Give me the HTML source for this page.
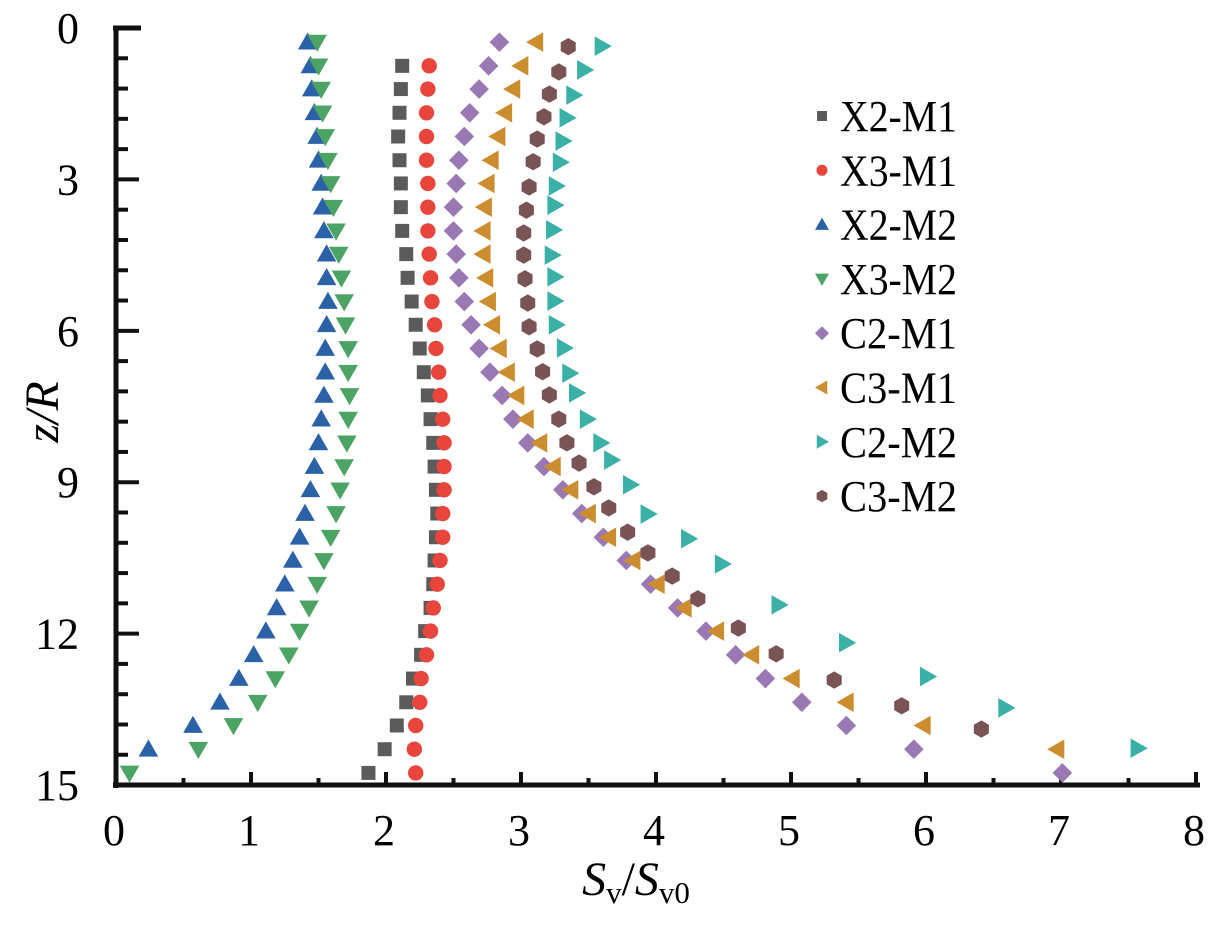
<!DOCTYPE html>
<html><head><meta charset="utf-8"><style>
html,body{margin:0;padding:0;background:#fff;}
svg{display:block;font-family:"Liberation Serif",serif;}
</style></head><body>
<svg id="chart" width="1220" height="926" viewBox="0 0 1220 926" xmlns="http://www.w3.org/2000/svg">
<g id="axes"></g>
<g id="marks"></g>
<g id="legend"></g>
<text transform="translate(58,412) rotate(-90)" text-anchor="middle" font-size="48" font-style="italic">z/R</text>
<text x="636" y="895" text-anchor="middle" font-size="48"><tspan font-style="italic">S</tspan><tspan font-size="31" dy="8">v</tspan><tspan dy="-8">/</tspan><tspan font-style="italic">S</tspan><tspan font-size="31" dy="8">v0</tspan></text>
</svg>
<script>
const NS="http://www.w3.org/2000/svg";
const xTicks=[0,1,2,3,4,5,6,7,8];
const yTicks=[0,3,6,9,12,15];
const rowZ=[0.28,0.75,1.21,1.68,2.15,2.62,3.08,3.55,4.02,4.48,4.95,5.42,5.88,6.35,6.82,7.28,7.75,8.22,8.69,9.15,9.62,10.09,10.55,11.02,11.49,11.95,12.42,12.89,13.36,13.82,14.29,14.76];
const x2m1=[2.12,2.11,2.10,2.09,2.10,2.11,2.11,2.12,2.15,2.16,2.19,2.22,2.25,2.28,2.31,2.33,2.35,2.36,2.37,2.38,2.37,2.36,2.35,2.33,2.29,2.26,2.20,2.15,2.08,1.99,1.87];
const x3m1=[2.32,2.31,2.30,2.30,2.30,2.31,2.31,2.31,2.32,2.33,2.34,2.36,2.37,2.39,2.40,2.42,2.43,2.43,2.43,2.42,2.42,2.40,2.38,2.35,2.33,2.30,2.26,2.25,2.22,2.21,2.22];
const x2m2=[1.42,1.44,1.45,1.47,1.49,1.50,1.52,1.53,1.54,1.56,1.56,1.57,1.56,1.55,1.55,1.54,1.52,1.50,1.47,1.44,1.40,1.36,1.31,1.25,1.19,1.11,1.02,0.91,0.77,0.57,0.24];
const x3m2=[1.49,1.50,1.52,1.53,1.55,1.57,1.59,1.61,1.63,1.65,1.67,1.69,1.70,1.72,1.72,1.73,1.72,1.71,1.69,1.66,1.63,1.59,1.54,1.49,1.43,1.36,1.28,1.18,1.05,0.87,0.61,0.10];
const c2m1=[2.84,2.76,2.69,2.62,2.58,2.54,2.52,2.50,2.50,2.52,2.54,2.58,2.63,2.69,2.77,2.86,2.94,3.05,3.17,3.31,3.45,3.61,3.78,3.96,4.16,4.37,4.59,4.81,5.08,5.41,5.91,7.01];
const c3m1=[3.11,3.00,2.94,2.88,2.83,2.78,2.75,2.73,2.72,2.72,2.74,2.76,2.79,2.84,2.90,2.97,3.04,3.14,3.24,3.37,3.50,3.65,3.83,4.01,4.21,4.45,4.71,5.01,5.41,5.98,6.97];
const c2m2Z=[0.36,0.83,1.33,1.78,2.24,2.66,3.13,3.51,4.0,4.5,4.93,5.41,5.88,6.34,6.84,7.23,7.75,8.22,8.56,9.05,9.63,10.12,10.62,11.43,12.18,12.85,13.47,14.27];
const c2m2=[3.60,3.47,3.39,3.34,3.31,3.29,3.26,3.25,3.24,3.23,3.25,3.25,3.26,3.32,3.36,3.41,3.49,3.59,3.67,3.81,3.94,4.24,4.49,4.91,5.41,6.01,6.59,7.57];
const c3m2Z=[0.37,0.87,1.31,1.76,2.2,2.65,3.15,3.61,4.06,4.5,4.97,5.45,5.92,6.36,6.81,7.27,7.75,8.22,8.62,9.09,9.51,9.99,10.4,10.86,11.31,11.89,12.4,12.92,13.43,13.89];
const c3m2=[3.35,3.28,3.21,3.17,3.12,3.09,3.06,3.04,3.02,3.02,3.03,3.05,3.06,3.12,3.16,3.21,3.28,3.34,3.43,3.54,3.65,3.79,3.94,4.12,4.31,4.61,4.89,5.32,5.82,6.41];
const seriesNames=["X2-M1","X3-M1","X2-M2","X3-M2","C2-M1","C3-M1","C2-M2","C3-M2"];

const X0=116,XS=135,Y0=28,YS=50.47;
function sx(v){return X0+v*XS;}
function sy(v){return Y0+v*YS;}

const series=[
 {name:seriesNames[0],xs:x2m1,zs:rowZ.slice(1),shape:"square",color:"#5b5b5b"},
 {name:seriesNames[1],xs:x3m1,zs:rowZ.slice(1),shape:"circle",color:"#e8453c"},
 {name:seriesNames[2],xs:x2m2,zs:rowZ,shape:"up",color:"#2b62a7"},
 {name:seriesNames[3],xs:x3m2,zs:rowZ,shape:"down",color:"#4ba463"},
 {name:seriesNames[4],xs:c2m1,zs:rowZ,shape:"diamond",color:"#9a78b4"},
 {name:seriesNames[5],xs:c3m1,zs:rowZ,shape:"left",color:"#cc8d2f"},
 {name:seriesNames[6],xs:c2m2,zs:c2m2Z,shape:"right",color:"#3bb0a6"},
 {name:seriesNames[7],xs:c3m2,zs:c3m2Z,shape:"hex",color:"#7a5454"}
];

function marker(shape,cx,cy,s,color){
  let el;
  if(shape==="circle"){el=document.createElementNS(NS,"circle");el.setAttribute("cx",cx);el.setAttribute("cy",cy);el.setAttribute("r",s*0.55);}
  else if(shape==="square"){el=document.createElementNS(NS,"rect");el.setAttribute("x",cx-s*0.5);el.setAttribute("y",cy-s*0.5);el.setAttribute("width",s);el.setAttribute("height",s);}
  else{
    let p=[];const h=s*0.7;
    if(shape==="up")p=[[cx,cy-h],[cx+h,cy+h*0.75],[cx-h,cy+h*0.75]];
    if(shape==="down")p=[[cx,cy+h],[cx+h,cy-h*0.75],[cx-h,cy-h*0.75]];
    if(shape==="left")p=[[cx-h,cy],[cx+h*0.75,cy-h],[cx+h*0.75,cy+h]];
    if(shape==="right")p=[[cx+h,cy],[cx-h*0.75,cy-h],[cx-h*0.75,cy+h]];
    if(shape==="diamond")p=[[cx,cy-h],[cx+h,cy],[cx,cy+h],[cx-h,cy]];
    if(shape==="hex"){for(let i=0;i<6;i++){const a=Math.PI/6+i*Math.PI/3;p.push([cx+s*0.62*Math.cos(a),cy+s*0.62*Math.sin(a)]);}}
    el=document.createElementNS(NS,"polygon");el.setAttribute("points",p.map(q=>q.join(",")).join(" "));
  }
  el.setAttribute("fill",color);
  return el;
}

const axes=document.getElementById("axes");
function line(x1,y1,x2,y2,w,name){
  const l=document.createElementNS(NS,"line");
  l.setAttribute("x1",x1);l.setAttribute("y1",y1);l.setAttribute("x2",x2);l.setAttribute("y2",y2);
  l.setAttribute("stroke","#111");l.setAttribute("stroke-width",w);
  
  
  axes.appendChild(l);
}
line(116,26,116,788,5,"y-axis-line");
line(113,785,1200,785,5,"x-axis-line");
line(113,28,141,28,5,"y-axis-top-cap");
for(let v=0.6;v<15;v+=0.6){const major=Math.abs(v/3-Math.round(v/3))<0.01;line(116,sy(v),major?139:128,sy(v),4,major?"y-major-tick":"y-minor-tick");}
for(let v=0.5;v<=8.01;v+=0.5){const major=Math.abs(v-Math.round(v))<0.01;line(sx(v),785,sx(v),major?772:778,4,major?"x-major-tick":"x-minor-tick");}
yTicks.forEach(v=>{const t=document.createElementNS(NS,"text");t.setAttribute("x",79);t.setAttribute("y",sy(v)+15);t.setAttribute("text-anchor","end");t.setAttribute("font-size","44");t.textContent=v;
 
 
 axes.appendChild(t);});
xTicks.forEach(v=>{const t=document.createElementNS(NS,"text");t.setAttribute("x",sx(v)-2);t.setAttribute("y",845);t.setAttribute("text-anchor","middle");t.setAttribute("font-size","44");t.textContent=v;
 
 
 axes.appendChild(t);});

const marks=document.getElementById("marks");
const legend=document.getElementById("legend");
series.forEach((s,i)=>{
  const g=document.createElementNS(NS,"g");
  
  
  s.xs.forEach((v,j)=>{
    const m=marker(s.shape,sx(v),sy(s.zs[j]),14,s.color);
    
    
    g.appendChild(m);
  });
  marks.appendChild(g);
  const ly=116+i*54.3;
  const lg=document.createElementNS(NS,"g");
  
  
  lg.appendChild(marker(s.shape,822,ly,10,s.color));
  const t=document.createElementNS(NS,"text");t.setAttribute("x",840);t.setAttribute("y",ly+15);t.setAttribute("font-size","44");t.textContent=s.name;
  t.setAttribute("textLength","117");
  t.setAttribute("lengthAdjust","spacingAndGlyphs");
  lg.appendChild(t);
  legend.appendChild(lg);
});
</script>
</body></html>
